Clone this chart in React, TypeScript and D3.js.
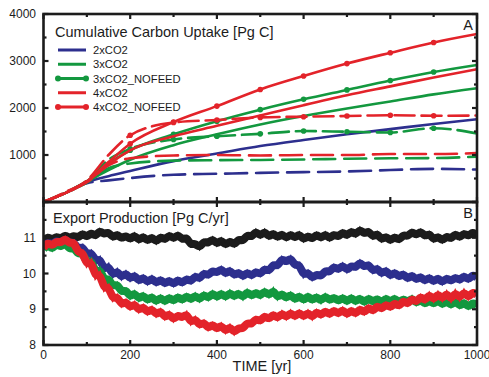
import React from "react";
import * as d3 from "d3";

const WIDTH = 489;
const HEIGHT = 377;
const FONT = "'Liberation Sans', Arial, Helvetica, sans-serif";
const INK = "#1c1c1c";

const BLUE = "#2d2f8e";
const GREEN = "#13983f";
const RED = "#e3232a";

// panel A: cumulative carbon uptake [Pg C]
const uptakeYears = [0, 50, 100, 150, 200, 300, 400, 500, 600, 700, 800, 900, 1000];
const up2x = [0, 190, 420, 550, 660, 870, 1030, 1190, 1320, 1440, 1550, 1660, 1760];
const up2xDash = [0, 190, 400, 460, 510, 580, 600, 620, 635, 650, 680, 705, 690];
const up3x = [0, 190, 430, 680, 900, 1210, 1440, 1650, 1830, 1990, 2140, 2290, 2420];
const up3xDash = [0, 190, 410, 720, 820, 880, 890, 895, 905, 920, 930, 935, 965];
const up3xNofeed = [0, 190, 440, 820, 1100, 1440, 1720, 1965, 2185, 2385, 2585, 2765, 2915];
const up3xNofeedDash = [0, 200, 450, 900, 1130, 1330, 1400, 1450, 1510, 1495, 1480, 1570, 1460];
const up4x = [0, 190, 430, 800, 1100, 1400, 1620, 1840, 2060, 2270, 2460, 2650, 2825];
const up4xDash = [0, 190, 420, 780, 930, 990, 1000, 990, 1000, 1000, 1020, 1020, 1040];
const up4xNofeed = [0, 190, 440, 850, 1240, 1700, 2040, 2395, 2680, 2945, 3175, 3395, 3575];
const up4xNofeedDash = [0, 210, 460, 1000, 1420, 1690, 1745, 1800, 1815, 1830, 1845, 1835, 1840];
const markerYears = [200, 300, 400, 500, 600, 700, 800, 900];

// panel B: export production [Pg C/yr], every 10 years
const exportYears = d3.range(0, 1001, 10);
const expControl = [
  10.9, 11.05, 10.92, 11.06, 10.94, 11.1, 10.96, 11.08, 10.98, 11.14,
  11.0, 11.16, 11.02, 11.22, 11.08, 11.18, 10.98, 11.12, 10.96, 11.08,
  10.93, 11.1, 10.9, 11.06, 10.89, 11.04, 10.86, 11.05, 10.92, 11.1,
  10.95, 11.11, 10.93, 11.03, 10.78, 10.86, 10.7, 10.92, 10.83, 10.99,
  10.8, 10.96, 10.77, 10.93, 10.78, 10.98, 10.89, 11.1, 11.0, 11.2,
  11.03, 11.2, 11.0, 11.15, 10.98, 11.13, 10.96, 11.12, 10.97, 11.13,
  10.92, 11.08, 10.94, 11.12, 10.96, 11.13, 10.95, 11.12, 11.0, 11.18,
  11.03, 11.21, 11.06, 11.26, 11.09, 11.21, 11.0, 11.14, 10.92, 11.06,
  10.89, 11.05, 10.91, 11.1, 11.02, 11.19, 11.05, 11.2, 11.02, 11.14,
  10.92, 11.06, 10.89, 11.07, 10.95, 11.13, 10.98, 11.15, 11.02, 11.18,
  11.05,
];
const exp2x = [
  10.75, 10.88, 10.8, 10.93, 10.84, 10.98, 10.82, 10.9, 10.66, 10.78,
  10.5, 10.62, 10.32, 10.44, 10.08, 10.24, 9.92, 10.1, 9.86, 10.04,
  9.82, 9.98, 9.76, 9.92, 9.72, 9.9, 9.7, 9.86, 9.68, 9.84,
  9.67, 9.85, 9.7, 9.88, 9.75, 9.96, 9.82, 10.04, 9.92, 10.1,
  10.0, 10.16, 9.96, 10.12, 9.92, 10.06, 9.88, 10.06, 9.9, 10.08,
  9.95, 10.16, 10.04, 10.28, 10.18, 10.44, 10.3, 10.46, 10.2, 10.28,
  9.92, 10.06, 9.84, 10.0, 9.9, 10.1, 10.02, 10.22, 10.08, 10.26,
  10.06, 10.24, 10.14, 10.34, 10.16, 10.28, 10.04, 10.18, 9.96, 10.12,
  9.9, 10.06, 9.88, 10.02, 9.82, 9.98, 9.8, 9.94, 9.76, 9.92,
  9.74, 9.9, 9.72, 9.9, 9.76, 9.92, 9.78, 9.96, 9.8, 9.98,
  9.88,
];
const exp3x = [
  10.68, 10.82, 10.66, 10.86, 10.72, 10.88, 10.66, 10.74, 10.52, 10.6,
  10.28, 10.4, 10.0, 10.14, 9.8, 9.88, 9.62, 9.72, 9.46, 9.56,
  9.32, 9.48, 9.26, 9.42, 9.22, 9.38, 9.18, 9.36, 9.18, 9.36,
  9.2, 9.38, 9.22, 9.4, 9.24, 9.42, 9.24, 9.44, 9.28, 9.48,
  9.3, 9.48, 9.3, 9.5, 9.32, 9.48, 9.3, 9.52, 9.34, 9.5,
  9.34, 9.54, 9.36, 9.56, 9.3, 9.46, 9.28, 9.44, 9.24, 9.4,
  9.22, 9.4, 9.22, 9.38, 9.2, 9.4, 9.22, 9.36, 9.2, 9.36,
  9.18, 9.36, 9.18, 9.34, 9.16, 9.34, 9.18, 9.32, 9.16, 9.34,
  9.18, 9.34, 9.16, 9.32, 9.17, 9.34, 9.14, 9.3, 9.12, 9.28,
  9.12, 9.28, 9.1, 9.26, 9.08, 9.26, 9.06, 9.22, 9.04, 9.2,
  9.1,
];
const exp4x = [
  10.72, 10.88, 10.76, 10.92, 10.84, 11.0, 10.82, 10.9, 10.56, 10.62,
  10.22, 10.36, 9.88, 10.02, 9.54, 9.66, 9.26, 9.38, 9.1, 9.24,
  9.02, 9.18, 8.94, 9.1, 8.88, 9.04, 8.82, 8.98, 8.74, 8.9,
  8.68, 8.86, 8.74, 8.9, 8.6, 8.76, 8.52, 8.66, 8.44, 8.6,
  8.42, 8.58, 8.36, 8.54, 8.32, 8.5, 8.44, 8.64, 8.56, 8.76,
  8.64, 8.84, 8.7, 8.88, 8.72, 8.92, 8.74, 8.94, 8.76, 8.94,
  8.76, 8.94, 8.74, 8.96, 8.8, 8.98, 8.82, 9.0, 8.84, 9.02,
  8.82, 9.0, 8.84, 9.04, 8.88, 9.08, 8.92, 9.12, 8.98, 9.16,
  9.02, 9.2, 9.06, 9.26, 9.12, 9.32, 9.18, 9.38, 9.22, 9.44,
  9.24, 9.46, 9.26, 9.48, 9.24, 9.5, 9.28, 9.52, 9.3, 9.5,
  9.4,
];

const xTicks = d3.range(0, 1001, 100);
const xLabels = [0, 200, 400, 600, 800, 1000];
const uptakeTicks = d3.range(0, 4001, 500);
const uptakeLabels = [1000, 2000, 3000, 4000];
const exportTicks = d3.range(8, 12.01, 0.5);
const exportLabels = [8, 9, 10, 11];

const uptakeSeries = [
  { name: "2xCO2", color: BLUE, solid: up2x, dashed: up2xDash, markers: false },
  { name: "3xCO2", color: GREEN, solid: up3x, dashed: up3xDash, markers: false },
  { name: "3xCO2_NOFEED", color: GREEN, solid: up3xNofeed, dashed: up3xNofeedDash, markers: true },
  { name: "4xCO2", color: RED, solid: up4x, dashed: up4xDash, markers: false },
  { name: "4xCO2_NOFEED", color: RED, solid: up4xNofeed, dashed: up4xNofeedDash, markers: true },
];

const exportSeries = [
  { color: INK, values: expControl },
  { color: BLUE, values: exp2x },
  { color: GREEN, values: exp3x },
  { color: RED, values: exp4x },
];

const LEFT = 43.5;
const RIGHT = 477;
const A_TOP = 14;
const MID = 202;
const B_BOTTOM = 345;

export default function App() {
  const x = d3.scaleLinear().domain([0, 1000]).range([LEFT, RIGHT]);
  const yA = d3.scaleLinear().domain([0, 4000]).range([MID, A_TOP]);
  const yB = d3.scaleLinear().domain([8, 12]).range([B_BOTTOM, MID]);

  const uptakeLine = d3
    .line<number>()
    .x((_, i) => x(uptakeYears[i]))
    .y((d) => yA(d))
    .curve(d3.curveMonotoneX);

  // smoothed core plus the jagged trace on top, so each run reads as a noisy band
  const exportCore = d3
    .line<number>()
    .x((_, i) => x(exportYears[i]))
    .y((d) => yB(d))
    .curve(d3.curveBasis);
  const exportSpikes = d3
    .line<number>()
    .x((_, i) => x(exportYears[i]))
    .y((d) => yB(d));

  const tickLen = (major: boolean) => (major ? 5 : 3);

  const xTickMarks = (yEdge: number, dir: number, key: string) =>
    xTicks.map((t) => (
      <line
        key={`${key}-${t}`}
        x1={x(t)}
        x2={x(t)}
        y1={yEdge}
        y2={yEdge + dir * tickLen(t % 200 === 0)}
        stroke={INK}
        strokeWidth={2.2}
      />
    ));

  const legendY = d3.scalePoint<string>().domain(uptakeSeries.map((s) => s.name)).range([50, 107]);

  return (
    <svg
      width={WIDTH}
      height={HEIGHT}
      style={{ position: "absolute", left: 0, top: 0, background: "white" }}
      fontFamily={FONT}
    >
      <defs>
        <clipPath id="clipA">
          <rect x={LEFT} y={A_TOP} width={RIGHT - LEFT} height={MID - A_TOP + 2} />
        </clipPath>
        <clipPath id="clipB">
          <rect x={LEFT} y={MID} width={RIGHT - LEFT} height={B_BOTTOM - MID} />
        </clipPath>
      </defs>

      {/* panel A lines */}
      <g clipPath="url(#clipA)" fill="none" strokeLinecap="round">
        {uptakeSeries.map((s) => (
          <g key={s.name}>
            <path
              d={uptakeLine(s.dashed) ?? ""}
              stroke={s.color}
              strokeWidth={2.6}
              strokeDasharray={s.markers ? "20 7" : "22 9"}
            />
            <path d={uptakeLine(s.solid) ?? ""} stroke={s.color} strokeWidth={2.6} />
            {s.markers &&
              markerYears.map((yr) => {
                const i = uptakeYears.indexOf(yr);
                return (
                  <g key={yr} fill={s.color} stroke="none">
                    <circle cx={x(yr)} cy={yA(s.solid[i])} r={2.8} />
                    <circle cx={x(yr)} cy={yA(s.dashed[i])} r={2.8} />
                  </g>
                );
              })}
          </g>
        ))}
      </g>

      {/* panel B lines */}
      <g clipPath="url(#clipB)" fill="none">
        {exportSeries.map((s, i) => (
          <g key={i} stroke={s.color}>
            <path d={exportCore(s.values) ?? ""} strokeWidth={8} />
            <path
              d={exportSpikes(s.values) ?? ""}
              strokeWidth={3}
              strokeLinejoin="miter"
              strokeMiterlimit={6}
            />
          </g>
        ))}
      </g>

      {/* frames */}
      <rect x={LEFT} y={A_TOP} width={RIGHT - LEFT} height={MID - A_TOP} fill="none" stroke={INK} strokeWidth={2.6} />
      <rect x={LEFT} y={MID} width={RIGHT - LEFT} height={B_BOTTOM - MID} fill="none" stroke={INK} strokeWidth={2.6} />

      {/* ticks */}
      {xTickMarks(A_TOP, 1, "at")}
      {xTickMarks(MID, -1, "ab")}
      {xTickMarks(MID, 1, "bt")}
      {xTickMarks(B_BOTTOM, -1, "bb")}
      {uptakeTicks.map((v) => (
        <g key={`ya-${v}`} stroke={INK} strokeWidth={2.2}>
          <line x1={LEFT} x2={LEFT + tickLen(v % 1000 === 0)} y1={yA(v)} y2={yA(v)} />
          <line x1={RIGHT} x2={RIGHT - tickLen(v % 1000 === 0)} y1={yA(v)} y2={yA(v)} />
        </g>
      ))}
      {exportTicks.map((v) => (
        <g key={`yb-${v}`} stroke={INK} strokeWidth={2.2}>
          <line x1={LEFT} x2={LEFT + tickLen(v % 1 === 0)} y1={yB(v)} y2={yB(v)} />
          <line x1={RIGHT} x2={RIGHT - tickLen(v % 1 === 0)} y1={yB(v)} y2={yB(v)} />
        </g>
      ))}

      {/* tick labels */}
      <g fontSize={12} fill={INK}>
        {uptakeLabels.map((v) => (
          <text key={`la-${v}`} x={36} y={yA(v)} textAnchor="end" dominantBaseline="central">
            {v}
          </text>
        ))}
        {exportLabels.map((v) => (
          <text key={`lb-${v}`} x={36} y={yB(v)} textAnchor="end" dominantBaseline="central">
            {v}
          </text>
        ))}
        {xLabels.map((t) => (
          <text key={`lx-${t}`} x={x(t)} y={359} textAnchor="middle">
            {t}
          </text>
        ))}
      </g>
      <text x={262} y={371} textAnchor="middle" fontSize={14.5} fill={INK}>
        TIME [yr]
      </text>

      {/* titles */}
      <text x={55} y={37} fontSize={14.5} fill={INK}>
        Cumulative Carbon Uptake [Pg C]
      </text>
      <text x={53} y={223} fontSize={14.5} fill={INK}>
        Export Production [Pg C/yr]
      </text>
      <text x={473} y={30} textAnchor="end" fontSize={14.5} fill={INK}>
        A
      </text>
      <text x={473} y={218} textAnchor="end" fontSize={14.5} fill={INK}>
        B
      </text>

      {/* legend */}
      <g>
        {uptakeSeries.map((s) => {
          const ly = legendY(s.name) ?? 0;
          return (
            <g key={s.name}>
              <line x1={58} x2={86} y1={ly} y2={ly} stroke={s.color} strokeWidth={3} />
              {s.markers && (
                <g fill={s.color}>
                  <circle cx={58} cy={ly} r={3} />
                  <circle cx={86} cy={ly} r={3} />
                </g>
              )}
              <text x={93} y={ly} dominantBaseline="central" fontSize={11.2} fill={INK}>
                {s.name}
              </text>
            </g>
          );
        })}
      </g>
    </svg>
  );
}
